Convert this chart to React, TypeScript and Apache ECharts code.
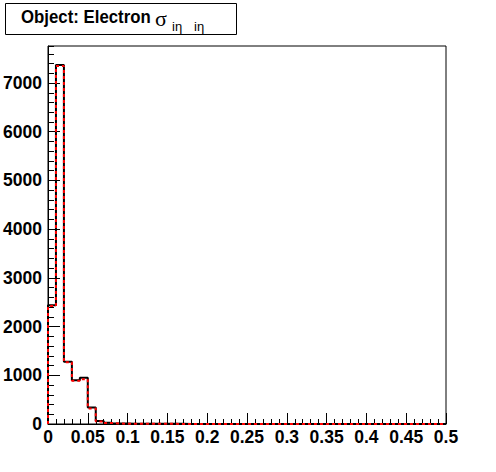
import React, { useEffect, useRef } from "react";
import * as echarts from "echarts";

// Histogram: 50 bins of width 0.01 from 0 to 0.5
const binWidth = 0.01;
const xMin = 0;
const xMax = 0.5;
const blackValues = [
  2440, 7370, 1280, 900, 950, 340, 60, 25, 10, 8,
  6, 5, 4, 4, 3, 3, 3, 2, 2, 2,
  2, 2, 1, 1, 1, 1, 1, 1, 1, 1,
  1, 1, 1, 1, 0, 0, 0, 0, 0, 0,
  0, 0, 0, 0, 0, 0, 0, 0, 0, 0,
];
const redValues = [
  2420, 7350, 1270, 890, 920, 320, 50, 20, 9, 7,
  6, 5, 4, 3, 3, 3, 2, 2, 2, 2,
  2, 1, 1, 1, 1, 1, 1, 1, 1, 1,
  1, 1, 1, 0, 0, 0, 0, 0, 0, 0,
  0, 0, 0, 0, 0, 0, 0, 0, 0, 0,
];
const yMax = 7760;
const yMajor = 1000;
const yMinor = 200;
const xMajor = 0.05;
const xLabels = ["0", "0.05", "0.1", "0.15", "0.2", "0.25", "0.3", "0.35", "0.4", "0.45", "0.5"];

function stepPoints(values: number[]) {
  const pts: number[][] = [[xMin, 0]];
  values.forEach((v, i) => pts.push([xMin + i * binWidth, v]));
  pts.push([xMax, 0]);
  return pts;
}

const FONT = "'Liberation Sans', Arial, Helvetica, sans-serif";

export default function App() {
  const ref = useRef<HTMLDivElement>(null);
  useEffect(() => {
    if (!ref.current) return;
    const chart = echarts.init(ref.current, null, { renderer: "svg" });
    const labelStyle = {
      color: "#000",
      fontFamily: FONT,
      fontWeight: "bold" as const,
      fontSize: 17.5,
    };
    chart.setOption({
      animation: false,
      backgroundColor: "#fff",
      grid: {
        left: 48,
        right: 50,
        top: 46,
        bottom: 48,
        show: true,
        borderColor: "#000",
        borderWidth: 1,
        backgroundColor: "#fff",
        containLabel: false,
      },
      xAxis: {
        type: "value",
        min: xMin,
        max: xMax,
        interval: xMajor,
        axisLine: { show: true, onZero: false, lineStyle: { color: "#000", width: 1 } },
        axisTick: { show: true, inside: true, length: 11, lineStyle: { color: "#000", width: 1 } },
        minorTick: { show: true, splitNumber: 5, length: 5, lineStyle: { color: "#000", width: 1 } },
        splitLine: { show: false },
        axisLabel: {
          ...labelStyle,
          margin: 4,
          formatter: (v: number) => {
            const idx = Math.round(v / xMajor);
            return xLabels[idx] ?? "";
          },
        },
      },
      yAxis: [
        {
          type: "value",
          min: 0,
          max: yMax,
          interval: yMajor,
          axisLine: { show: true, onZero: false, lineStyle: { color: "#000", width: 1 } },
          axisTick: { show: true, inside: true, length: 12, lineStyle: { color: "#000", width: 1 } },
          splitLine: { show: false },
          axisLabel: { ...labelStyle, margin: 6, showMaxLabel: false, formatter: (v: number) => String(v) },
        },
        {
          type: "value",
          position: "left",
          min: 0,
          max: yMax,
          interval: yMinor,
          axisLine: { show: false },
          axisTick: { show: true, inside: true, length: 6, lineStyle: { color: "#000", width: 1 } },
          splitLine: { show: false },
          axisLabel: { show: false },
        },
      ],
      series: [
        {
          type: "line",
          step: "end",
          data: stepPoints(blackValues),
          symbol: "none",
          lineStyle: { color: "#000", width: 2 },
          z: 3,
        },
        {
          type: "line",
          step: "end",
          data: stepPoints(redValues),
          symbol: "none",
          lineStyle: { color: "#ff0000", width: 2, type: [3, 3] },
          z: 4,
        },
      ],
      graphic: [
        {
          type: "rect",
          shape: { x: 5.5, y: 3.5, width: 231, height: 31 },
          style: { fill: "#fff", stroke: "#000", lineWidth: 1 },
          z: 10,
        },
        {
          type: "text",
          x: 21,
          y: 17,
          scaleY: 1.12,
          style: {
            text: "Object: Electron",
            font: `bold 16.8px ${FONT}`,
            fill: "#000",
            verticalAlign: "middle",
          },
          z: 11,
        },
        {
          type: "text",
          x: 155,
          y: 18,
          style: {
            text: "σ",
            font: `22px 'Liberation Serif', 'DejaVu Serif', serif`,
            fill: "#000",
            verticalAlign: "middle",
          },
          z: 11,
        },
        {
          type: "text",
          x: 172,
          y: 26,
          style: {
            text: "iη",
            font: `13px ${FONT}`,
            fill: "#000",
            verticalAlign: "middle",
          },
          z: 11,
        },
        {
          type: "text",
          x: 194,
          y: 26,
          style: {
            text: "iη",
            font: `13px ${FONT}`,
            fill: "#000",
            verticalAlign: "middle",
          },
          z: 11,
        },
      ],
    });
    return () => chart.dispose();
  }, []);
  return (
    <div
      ref={ref}
      style={{ position: "absolute", left: 0, top: 0, width: 496, height: 472 }}
    />
  );
}
